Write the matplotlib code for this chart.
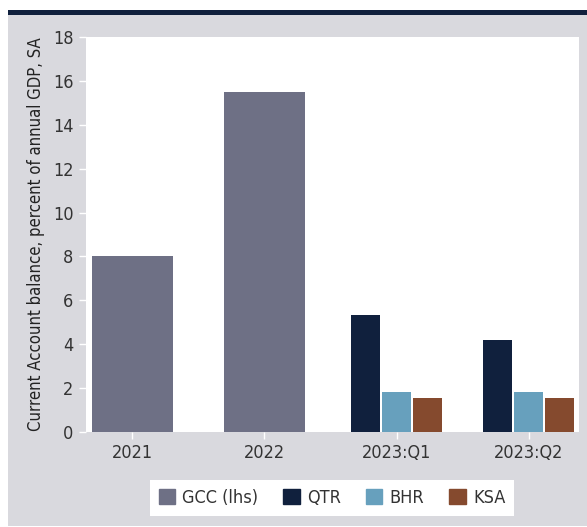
import matplotlib.pyplot as plt
from matplotlib.patches import Rectangle, Patch
import numpy as np

plt.rcParams['font.family'] = ['DejaVu Sans']
plt.rcParams['font.stretch'] = 'condensed'

# data
periods = ['2021', '2022', '2023:Q1', '2023:Q2']
gcc = [8.0, 15.5]
qtr = [5.35, 4.2]
bhr = [1.82, 1.82]
ksa = [1.55, 1.55]

c_gcc = '#6e7085'
c_qtr = '#10203d'
c_bhr = '#67a0bd'
c_ksa = '#854a2e'
c_bg = '#d9d9de'

fig = plt.figure(figsize=(5.87, 5.27), dpi=100)
fig.patch.set_facecolor('white')
# grey panel and navy rule at top
fig.patches.append(Rectangle((8/587, 0.002), 1, 1 - 15/527 - 0.002, transform=fig.transFigure,
                             facecolor=c_bg, edgecolor='none', zorder=-5))
fig.patches.append(Rectangle((8/587, 1 - 15/527), 1, 5/527, transform=fig.transFigure,
                             facecolor=c_qtr, edgecolor='none', zorder=-5))

ax = fig.add_axes([86/587, 1 - 432/527, (579 - 86)/587, (432 - 37)/527])
ax.set_facecolor('white')

x = np.arange(len(periods))
ax.bar(x[:2], gcc, width=0.615, color=c_gcc)
w = 0.22
step = 0.235
ax.bar(x[2:] - step, qtr, width=w, color=c_qtr)
ax.bar(x[2:], bhr, width=w, color=c_bhr)
ax.bar(x[2:] + step, ksa, width=w, color=c_ksa)

ax.set_xlim(-0.35, 3.38)
ax.set_ylim(0, 18)
ax.set_yticks(range(0, 19, 2))
ax.set_xticks(x)
ax.set_xticklabels(periods)
for s in ax.spines.values():
    s.set_visible(False)
ax.tick_params(axis='both', colors='white', length=5, width=1, labelsize=13,
               labelcolor='#333333', pad=4)
ax.set_ylabel('Current Account balance, percent of annual GDP, SA', fontsize=12,
              color='#222222', labelpad=6)

handles = [Patch(color=c_gcc, label='GCC (lhs)'), Patch(color=c_qtr, label='QTR'),
           Patch(color=c_bhr, label='BHR'), Patch(color=c_ksa, label='KSA')]
leg = fig.legend(handles=handles, ncol=4, loc='center', bbox_to_anchor=(332/587, 1 - 498/527),
                 frameon=True, fancybox=False, fontsize=13, handlelength=0.9, handleheight=0.9,
                 handletextpad=0.4, columnspacing=1.4, borderpad=0.5)
leg.get_frame().set_facecolor('white')
leg.get_frame().set_edgecolor('none')
leg.get_frame().set_alpha(1)
for t in leg.get_texts():
    t.set_color('#333333')

plt.savefig('out.png', dpi=100)
